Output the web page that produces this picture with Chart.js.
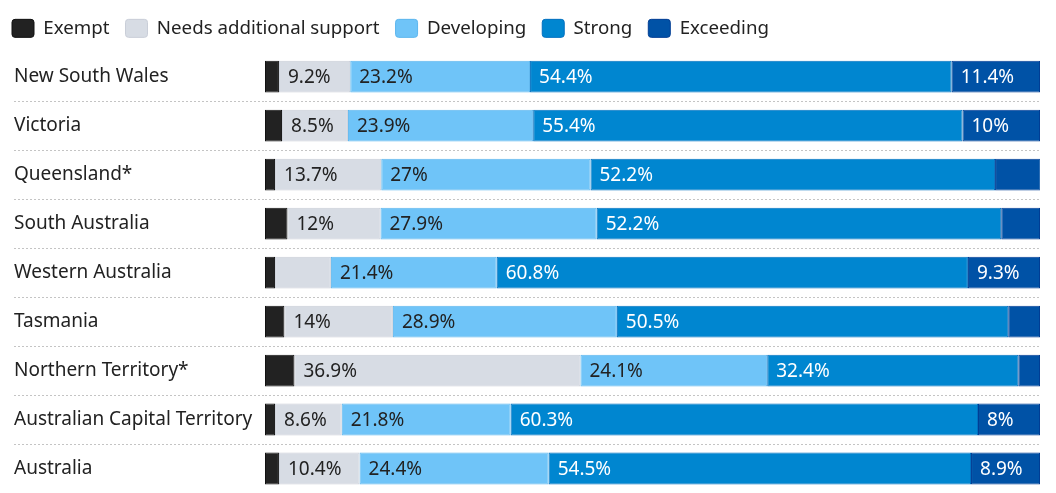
<!DOCTYPE html>
<html>
<head>
<meta charset="utf-8">
<script src="https://cdn.jsdelivr.net/npm/chart.js@4"></script>
<style>
html,body{margin:0;padding:0;background:#fff;}
#wrap{width:1056px;height:493px;position:relative;}
</style>
</head>
<body>
<div id="wrap"><canvas id="c"></canvas></div>
<script>
const categories = ["New South Wales","Victoria","Queensland*","South Australia","Western Australia","Tasmania","Northern Territory*","Australian Capital Territory","Australia"];
const seriesNames = ["Exempt","Needs additional support","Developing","Strong","Exceeding"];
const exempt     = [1.8, 2.2, 1.3, 2.9, 1.3, 2.5, 3.8, 1.3, 1.8];
const needs      = [9.2, 8.5, 13.7, 12, 7.2, 14, 36.9, 8.6, 10.4];
const developing = [23.2, 23.9, 27, 27.9, 21.4, 28.9, 24.1, 21.8, 24.4];
const strong     = [54.4, 55.4, 52.2, 52.2, 60.8, 50.5, 32.4, 60.3, 54.5];
const exceeding  = [11.4, 10, 5.9, 5.0, 9.3, 4.1, 2.8, 8, 8.9];

const fills   = ["#222222","#d7dce4","#6fc4f8","#0086d0","#0052a6"];
const borders = ["#111111","#c9ced8","#5cb6ee","#0070c0","#003d94"];
const labelColors = ["#ffffff","#222222","#222222","#ffffff","#ffffff"];
const FONT = "'Noto Sans', sans-serif";
const FSIZE = 19;

const seriesData = [exempt, needs, developing, strong, exceeding];

const segLabels = {
  id: 'segLabels',
  afterDatasetsDraw(chart) {
    const ctx = chart.ctx;
    ctx.save();
    ctx.font = FSIZE + "px " + FONT;
    ctx.textBaseline = 'middle';
    ctx.textAlign = 'left';
    chart.data.datasets.forEach((ds, di) => {
      const meta = chart.getDatasetMeta(di);
      meta.data.forEach((el, i) => {
        const v = ds.data[i];
        if (v < 8) return;
        const left = Math.min(el.x, el.base);
        ctx.fillStyle = labelColors[di];
        ctx.fillText(v + '%', left + 9, el.y + 1);
      });
    });
    ctx.restore();
  }
};

const legendShift = {
  id: 'legendShift',
  afterLayout(chart) {
    const l = chart.legend;
    l.left -= 18; l.right -= 18;
    l.top -= 4.5; l.bottom -= 4.5;
  }
};

const sepColor = (c) => (c.index === undefined || c.index === 0 || c.index >= categories.length) ? 'rgba(0,0,0,0)' : '#c4c4c4';

new Chart(document.getElementById('c'), {
  type: 'bar',
  data: {
    labels: categories,
    datasets: seriesData.map((d, i) => ({
      label: seriesNames[i],
      data: d,
      backgroundColor: fills[i],
      borderColor: borders[i],
      borderWidth: 1,
      borderSkipped: false,
      categoryPercentage: 1,
      barPercentage: 0.65
    }))
  },
  options: {
    indexAxis: 'y',
    responsive: true,
    maintainAspectRatio: false,
    animation: false,
    layout: { padding: { left: 14, right: 16, top: 7.5, bottom: 0 } },
    plugins: {
      tooltip: { enabled: false },
      legend: {
        position: 'top',
        align: 'start',
        labels: {
          color: '#222',
          font: { family: FONT, size: 18.7 },
          boxWidth: 22,
          boxHeight: 18,
          useBorderRadius: true,
          borderRadius: 3,
          padding: 16
        }
      }
    },
    scales: {
      x: { stacked: true, min: 0, max: 100, display: false },
      y: {
        stacked: true,
        afterFit(scale) { scale.width = 251; scale.paddingTop = 0; scale.paddingBottom = 0; },
        ticks: { color: '#222', font: { family: FONT, size: FSIZE }, crossAlign: 'far', autoSkip: false },
        grid: {
          offset: true,
          drawOnChartArea: true,
          color: sepColor,
          tickColor: sepColor,
          tickLength: 251,
          tickBorderDash: [2, 2],
          lineWidth: 1
        },
        border: { display: false, dash: [2, 2] }
      }
    }
  },
  plugins: [segLabels, legendShift]
});
</script>
</body>
</html>
